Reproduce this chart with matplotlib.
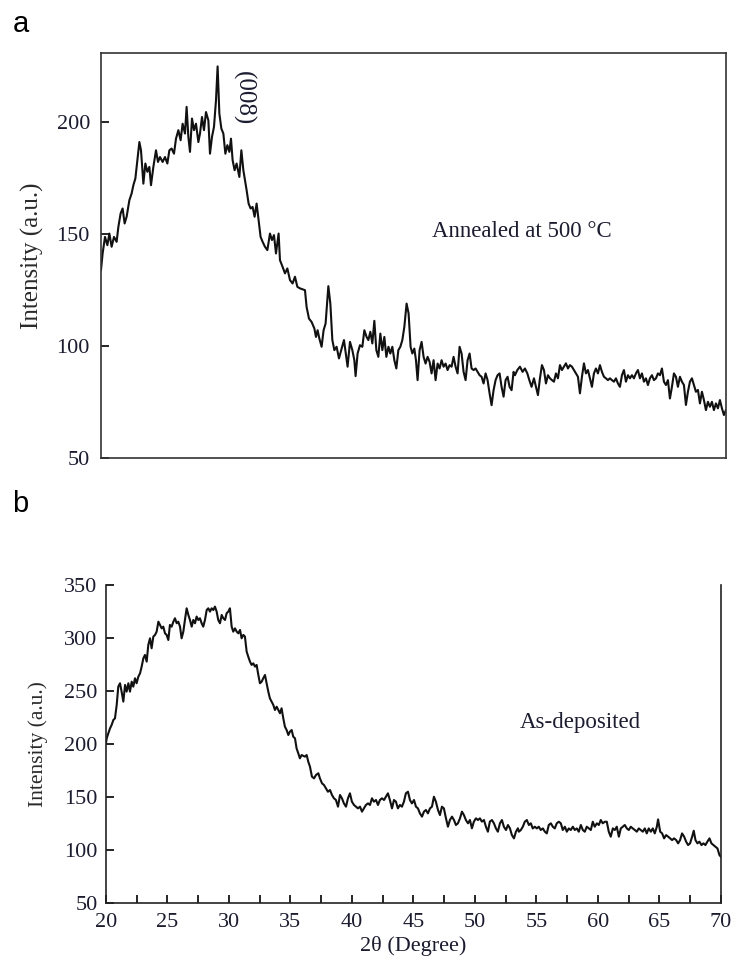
import matplotlib.pyplot as plt
from matplotlib.ticker import MultipleLocator


# --------------------------------------------------
# Data (2theta in degrees, intensity a.u.)
# --------------------------------------------------

annealed_2theta = [
    20.00, 20.13, 20.32, 20.51, 20.67, 20.85, 21.04, 21.25, 21.39, 21.57,
    21.73, 21.89, 22.05, 22.27, 22.45, 22.59, 22.75, 22.91, 23.07, 23.20,
    23.39, 23.55, 23.71, 23.87, 24.00, 24.19, 24.40, 24.56, 24.72, 24.93,
    25.12, 25.31, 25.47, 25.65, 25.84, 26.00, 26.19, 26.37, 26.53, 26.72,
    26.85, 26.99, 27.12, 27.28, 27.44, 27.60, 27.79, 27.92, 28.08, 28.24,
    28.40, 28.59, 28.72, 28.88, 29.04, 29.20, 29.33, 29.47, 29.63, 29.79,
    29.95, 30.11, 30.27, 30.40, 30.53, 30.69, 30.85, 31.07, 31.23, 31.39,
    31.52, 31.65, 31.81, 31.97, 32.13, 32.29, 32.45, 32.61, 32.77, 32.93,
    33.12, 33.31, 33.52, 33.68, 33.84, 34.00, 34.21, 34.32, 34.53, 34.72,
    34.91, 35.12, 35.33, 35.52, 35.71, 35.92, 36.32, 36.45, 36.64, 36.85,
    37.07, 37.20, 37.33, 37.47, 37.65, 37.81, 37.97, 38.19, 38.35, 38.51,
    38.67, 38.85, 39.04, 39.25, 39.44, 39.57, 39.73, 39.92, 40.11, 40.27,
    40.37, 40.53, 40.72, 40.91, 41.07, 41.25, 41.39, 41.55, 41.71, 41.87,
    42.03, 42.19, 42.35, 42.51, 42.67, 42.83, 43.00, 43.15, 43.31, 43.47,
    43.63, 43.79, 43.95, 44.11, 44.27, 44.45, 44.61, 44.77, 44.91, 45.07,
    45.20, 45.33, 45.49, 45.65, 45.81, 45.97, 46.13, 46.29, 46.45, 46.61,
    46.77, 46.93, 47.09, 47.25, 47.41, 47.57, 47.73, 47.89, 48.05, 48.21,
    48.37, 48.53, 48.69, 48.85, 49.01, 49.17, 49.33, 49.49, 49.65, 49.81,
    49.97, 50.13, 50.29, 50.45, 50.61, 50.77, 50.93, 51.09, 51.25, 51.41,
    51.57, 51.73, 51.89, 52.05, 52.21, 52.37, 52.53, 52.69, 52.85, 53.01,
    53.12, 53.31, 53.52, 53.73, 53.92, 54.11, 54.27, 54.45, 54.64, 54.80,
    54.96, 55.12, 55.28, 55.44, 55.60, 55.76, 55.92, 56.08, 56.24, 56.40,
    56.56, 56.72, 56.88, 57.04, 57.20, 57.36, 57.52, 57.68, 57.84, 58.00,
    58.16, 58.32, 58.48, 58.64, 58.80, 58.96, 59.12, 59.28, 59.44, 59.60,
    59.76, 59.92, 60.08, 60.24, 60.40, 60.56, 60.72, 60.88, 61.04, 61.20,
    61.36, 61.52, 61.68, 61.84, 62.00, 62.16, 62.32, 62.48, 62.64, 62.80,
    62.96, 63.12, 63.28, 63.44, 63.60, 63.76, 63.92, 64.08, 64.24, 64.40,
    64.56, 64.72, 64.88, 65.04, 65.20, 65.36, 65.52, 65.68, 65.84, 66.00,
    66.16, 66.32, 66.48, 66.64, 66.80, 66.96, 67.12, 67.28, 67.44, 67.60,
    67.76, 67.92, 68.08, 68.24, 68.40, 68.56, 68.72, 68.88, 69.04, 69.20,
    69.36, 69.52, 69.68, 69.84, 70.00,
]
annealed_counts = [
    134.0, 141.4, 148.8, 145.1, 150.3, 144.4, 148.8, 146.6, 153.3, 159.3,
    161.5, 154.8, 157.8, 165.2, 168.2, 171.9, 174.9, 183.1, 191.2, 187.5,
    172.6, 181.6, 177.9, 180.1, 171.9, 180.1, 187.5, 182.3, 184.5, 182.3,
    184.5, 181.6, 187.5, 188.3, 186.0, 192.7, 196.5, 192.0, 199.4, 195.0,
    206.9, 193.5, 186.8, 201.7, 196.5, 199.4, 191.2, 195.0, 202.4, 196.5,
    204.6, 200.9, 186.0, 193.5, 198.0, 209.8, 225.0, 203.9, 197.2, 195.0,
    186.0, 189.8, 186.8, 192.7, 183.1, 178.6, 181.6, 175.6, 187.5, 178.6,
    174.1, 169.7, 163.7, 161.5, 162.2, 157.8, 163.7, 156.3, 148.8, 146.6,
    144.4, 142.9, 150.3, 147.4, 149.6, 141.4, 150.3, 138.4, 135.4, 132.5,
    134.7, 129.5, 128.0, 131.0, 126.5, 125.8, 125.0, 117.5, 112.3, 110.8,
    107.9, 104.1, 107.1, 103.4, 99.7, 107.1, 110.1, 126.8, 119.0, 102.7,
    98.2, 99.7, 94.5, 98.9, 102.7, 97.5, 90.8, 101.9, 98.2, 93.7,
    86.6, 96.7, 100.4, 99.7, 107.1, 104.1, 102.7, 106.4, 101.2, 111.3,
    98.2, 95.2, 105.6, 98.2, 104.1, 95.2, 99.7, 96.7, 99.7, 93.7,
    90.0, 98.2, 99.7, 102.7, 108.6, 119.0, 114.6, 99.7, 96.7, 98.9,
    93.7, 84.8, 98.2, 101.9, 95.2, 92.2, 95.2, 93.0, 87.8, 93.7,
    84.8, 92.2, 90.0, 93.7, 90.8, 92.2, 89.3, 91.5, 90.8, 95.2,
    90.8, 87.8, 99.7, 96.7, 88.5, 84.8, 93.7, 96.7, 90.0, 89.3,
    90.0, 88.5, 87.0, 86.3, 83.3, 87.8, 84.8, 78.9, 73.6, 80.3,
    84.8, 87.0, 87.8, 81.8, 77.4, 84.8, 86.3, 81.8, 80.3, 88.5,
    87.0, 89.3, 90.8, 88.5, 90.0, 87.8, 84.8, 81.8, 85.6, 81.8,
    78.1, 85.6, 91.5, 89.3, 83.3, 87.0, 85.6, 84.8, 84.1, 87.8,
    85.6, 91.5, 89.3, 90.8, 92.3, 90.0, 91.5, 90.8, 89.3, 87.8,
    86.3, 78.9, 86.3, 92.3, 87.8, 89.3, 85.6, 81.8, 87.8, 90.0,
    87.8, 91.5, 88.5, 86.3, 85.6, 84.8, 85.6, 84.8, 84.1, 85.6,
    83.3, 81.8, 87.0, 89.3, 84.1, 87.0, 85.6, 87.0, 85.6, 87.8,
    89.3, 85.6, 87.8, 84.1, 85.6, 82.6, 85.6, 87.0, 84.8, 85.6,
    87.8, 87.0, 90.0, 84.1, 82.6, 84.8, 76.6, 81.8, 87.8, 86.3,
    81.8, 86.3, 84.1, 82.6, 73.7, 79.6, 84.1, 85.6, 82.6, 79.6,
    80.4, 74.4, 79.6, 75.9, 71.4, 75.1, 72.9, 75.1, 71.4, 74.4,
    72.2, 75.9, 72.2, 69.2, 71.4,
]

asdep_2theta = [
    20.00, 20.06, 20.19, 20.33, 20.46, 20.60, 20.73, 20.87, 21.00, 21.14,
    21.27, 21.41, 21.55, 21.68, 21.82, 21.95, 22.09, 22.22, 22.36, 22.49,
    22.63, 22.77, 22.90, 23.04, 23.17, 23.31, 23.44, 23.58, 23.71, 23.85,
    23.99, 24.12, 24.26, 24.39, 24.53, 24.66, 24.80, 24.93, 25.07, 25.20,
    25.34, 25.48, 25.61, 25.75, 25.88, 26.02, 26.15, 26.29, 26.42, 26.56,
    26.70, 26.83, 26.97, 27.10, 27.24, 27.37, 27.51, 27.64, 27.78, 27.91,
    28.05, 28.19, 28.32, 28.46, 28.59, 28.73, 28.86, 29.00, 29.13, 29.27,
    29.41, 29.54, 29.68, 29.81, 29.95, 30.08, 30.22, 30.35, 30.49, 30.63,
    30.76, 30.90, 31.03, 31.17, 31.30, 31.44, 31.57, 31.71, 31.84, 31.98,
    32.12, 32.25, 32.39, 32.52, 32.66, 32.79, 32.93, 33.06, 33.20, 33.33,
    33.47, 33.61, 33.74, 33.88, 34.01, 34.15, 34.28, 34.42, 34.55, 34.69,
    34.83, 34.96, 35.10, 35.23, 35.37, 35.50, 35.64, 35.77, 35.91, 36.18,
    36.32, 36.45, 36.59, 36.75, 36.92, 37.08, 37.27, 37.40, 37.57, 37.73,
    37.89, 38.05, 38.22, 38.38, 38.54, 38.70, 38.87, 39.03, 39.19, 39.35,
    39.52, 39.68, 39.84, 40.00, 40.17, 40.33, 40.49, 40.66, 40.82, 40.98,
    41.14, 41.31, 41.47, 41.63, 41.79, 41.96, 42.12, 42.28, 42.44, 42.61,
    42.77, 42.93, 43.09, 43.26, 43.42, 43.58, 43.74, 43.91, 44.07, 44.23,
    44.39, 44.56, 44.72, 44.88, 45.05, 45.21, 45.37, 45.53, 45.70, 45.86,
    46.02, 46.18, 46.35, 46.51, 46.67, 46.83, 47.00, 47.16, 47.32, 47.48,
    47.65, 47.81, 47.97, 48.14, 48.30, 48.46, 48.62, 48.79, 48.95, 49.11,
    49.27, 49.44, 49.60, 49.76, 49.92, 50.09, 50.25, 50.41, 50.57, 50.74,
    50.90, 51.06, 51.22, 51.39, 51.55, 51.71, 51.87, 52.04, 52.20, 52.36,
    52.53, 52.69, 52.85, 53.01, 53.18, 53.34, 53.50, 53.58, 53.74, 53.90,
    54.06, 54.23, 54.39, 54.55, 54.71, 54.88, 55.04, 55.20, 55.36, 55.53,
    55.69, 55.85, 56.01, 56.18, 56.34, 56.50, 56.66, 56.83, 56.99, 57.15,
    57.32, 57.48, 57.64, 57.80, 57.97, 58.13, 58.29, 58.45, 58.62, 58.78,
    58.94, 59.10, 59.27, 59.43, 59.59, 59.75, 59.92, 60.08, 60.24, 60.40,
    60.57, 60.73, 60.89, 61.05, 61.22, 61.38, 61.54, 61.71, 61.87, 62.03,
    62.19, 62.36, 62.52, 62.68, 62.84, 63.01, 63.17, 63.33, 63.49, 63.66,
    63.82, 63.98, 64.14, 64.31, 64.47, 64.63, 64.80, 64.90, 65.07, 65.23,
    65.39, 65.55, 65.72, 65.88, 66.04, 66.20, 66.37, 66.53, 66.69, 66.85,
    67.02, 67.18, 67.34, 67.50, 67.67, 67.80, 67.94, 68.10, 68.26, 68.43,
    68.59, 68.75, 68.91, 69.08, 69.24, 69.40, 69.56, 69.73, 69.89, 70.00,
]
asdep_counts = [
    201.0, 205.4, 210.1, 214.8, 218.0, 222.7, 224.2, 236.8, 254.1, 257.3,
    249.4, 240.0, 255.7, 249.4, 257.3, 249.4, 258.8, 254.1, 262.0, 257.3,
    263.5, 266.7, 273.0, 280.9, 284.0, 277.7, 293.4, 299.7, 290.3, 301.3,
    302.9, 306.0, 315.4, 312.3, 309.1, 310.7, 304.4, 302.9, 298.1, 312.3,
    310.7, 315.4, 318.6, 313.9, 315.4, 310.7, 299.7, 306.0, 317.0, 328.0,
    321.7, 317.0, 310.7, 317.0, 313.9, 320.2, 317.0, 318.6, 313.9, 310.7,
    317.0, 326.4, 328.0, 324.9, 328.0, 326.4, 329.6, 324.9, 317.0, 313.9,
    321.7, 318.6, 317.0, 323.3, 324.9, 328.0, 310.7, 306.0, 309.1, 306.0,
    304.4, 307.6, 299.7, 302.9, 301.3, 287.1, 282.4, 277.7, 274.6, 276.1,
    273.0, 274.6, 265.1, 257.3, 258.8, 262.0, 265.1, 257.3, 249.4, 243.1,
    240.0, 236.8, 232.1, 235.2, 232.1, 229.0, 233.7, 224.2, 216.4, 213.2,
    208.5, 211.7, 213.2, 206.9, 205.4, 195.9, 191.2, 186.5, 189.6, 188.1,
    189.6, 183.4, 178.6, 169.2, 167.6, 170.8, 172.4, 167.6, 162.9, 161.3,
    158.2, 155.0, 156.6, 151.9, 148.8, 147.2, 140.9, 151.9, 148.8, 144.0,
    140.9, 148.8, 153.5, 145.6, 142.5, 140.9, 139.3, 140.9, 136.2, 139.3,
    142.5, 144.0, 142.5, 148.8, 145.6, 147.2, 142.5, 147.2, 148.8, 147.2,
    150.3, 153.5, 147.2, 139.3, 147.2, 145.6, 139.3, 142.5, 140.9, 145.6,
    153.5, 155.0, 147.2, 144.0, 147.2, 140.9, 139.3, 134.6, 131.5, 136.2,
    137.8, 134.6, 139.3, 140.9, 150.3, 145.6, 137.8, 133.0, 140.9, 139.3,
    129.9, 122.0, 128.3, 131.5, 128.3, 123.6, 125.2, 129.9, 136.2, 133.0,
    128.3, 125.2, 128.3, 120.5, 126.8, 129.9, 128.3, 129.9, 126.8, 128.3,
    122.0, 117.3, 126.8, 128.3, 125.2, 120.5, 117.3, 125.2, 128.3, 122.0,
    118.9, 123.6, 120.5, 114.2, 111.0, 117.3, 120.5, 117.3, 118.9, 122.0,
    126.7, 128.3, 123.6, 125.2, 120.4, 122.0, 120.4, 122.0, 118.9, 120.4,
    117.3, 115.7, 123.6, 125.2, 122.0, 120.4, 125.2, 126.7, 125.2, 118.9,
    122.0, 117.3, 120.4, 118.9, 122.0, 118.9, 120.4, 117.3, 123.6, 118.9,
    117.3, 122.0, 120.4, 118.9, 126.7, 122.0, 125.2, 123.6, 128.3, 125.2,
    126.7, 126.7, 117.3, 112.6, 120.4, 118.9, 122.0, 112.6, 120.4, 122.0,
    123.6, 120.4, 118.9, 122.0, 120.4, 118.9, 117.3, 120.4, 118.9, 117.3,
    120.4, 115.7, 120.4, 117.3, 120.4, 115.7, 122.0, 128.9, 117.3, 115.7,
    111.0, 114.1, 112.6, 111.0, 109.4, 111.0, 109.4, 106.3, 109.4, 115.7,
    112.6, 107.9, 104.7, 106.3, 112.6, 118.2, 109.4, 106.3, 107.9, 104.7,
    106.3, 104.7, 107.9, 111.0, 106.3, 104.7, 103.1, 101.5, 95.3, 93.7,
]

SERIF = "Liberation Serif"
TICK_COLOR = "#1c1c30"
LINE_COLOR = "#111111"


def style_left_ticks(ax, pad, size):
    ax.tick_params(axis="y", direction="in", length=6, width=1.2, pad=pad,
                   labelsize=size, labelcolor=TICK_COLOR)
    for lab in ax.get_yticklabels():
        lab.set_fontfamily(SERIF)


# --------------------------------------------------
# Figure
# --------------------------------------------------

fig = plt.figure(figsize=(7.34, 9.65), dpi=100)

# ---- panel a: annealed at 500 C ----
ax_a = fig.add_axes([0.1376, 0.5254, 0.8514, 0.4197])
ax_a.plot(annealed_2theta, annealed_counts, color=LINE_COLOR, lw=1.5)
ax_a.set_xlim(20, 70)
ax_a.set_ylim(50, 231)
ax_a.set_yticks([50, 100, 150, 200])
ax_a.set_xticks([])
style_left_ticks(ax_a, pad=8, size=16)
for sp in ax_a.spines.values():
    sp.set_color("#333333")
    sp.set_linewidth(1.2)
ax_a.set_ylabel("Intensity (a.u.)", fontfamily=SERIF, fontsize=18,
                color="#2a2a2a", labelpad=9)
ax_a.text(31.4, 211, "(008)", rotation=270, fontfamily=SERIF, fontsize=18,
          ha="center", va="center", color="#1c1c30")
ax_a.text(53.7, 151, "Annealed at 500 \u00b0C", fontfamily=SERIF,
          fontsize=16.5, ha="center", va="center", color="#1c1c30")
fig.text(0.028, 0.975, "a", fontfamily="Liberation Sans", fontsize=21,
         ha="center", va="center")

# ---- panel b: as-deposited ----
ax_b = fig.add_axes([0.1444, 0.0642, 0.8376, 0.3296])
ax_b.plot(asdep_2theta, asdep_counts, color=LINE_COLOR, lw=1.5)
ax_b.set_xlim(20, 70)
ax_b.set_ylim(50, 350)
ax_b.set_yticks([50, 100, 150, 200, 250, 300, 350])
ax_b.xaxis.set_major_locator(MultipleLocator(5))
ax_b.xaxis.set_minor_locator(MultipleLocator(2.5))
ax_b.spines["top"].set_visible(False)
for sp in ["left", "bottom", "right"]:
    ax_b.spines[sp].set_linewidth(1.2)
    ax_b.spines[sp].set_color("#222222")
style_left_ticks(ax_b, pad=6, size=16)
ax_b.tick_params(axis="x", which="both", direction="in", length=6, width=1.2,
                 pad=7, labelsize=16, labelcolor=TICK_COLOR)
for lab in ax_b.get_xticklabels():
    lab.set_fontfamily(SERIF)
ax_b.set_ylabel("Intensity (a.u.)", fontfamily=SERIF, fontsize=15.5,
                color="#2a2a2a", labelpad=12)
ax_b.set_xlabel("2\u03b8 (Degree)", fontfamily=SERIF, fontsize=16,
                color="#1c1c30", labelpad=3)
ax_b.text(58.6, 220, "As-deposited", fontfamily=SERIF, fontsize=16.5,
          ha="center", va="center", color="#1c1c30")
fig.text(0.028, 0.478, "b", fontfamily="Liberation Sans", fontsize=21,
         ha="center", va="center")

fig.savefig("out.png", dpi=100)
plt.close(fig)
